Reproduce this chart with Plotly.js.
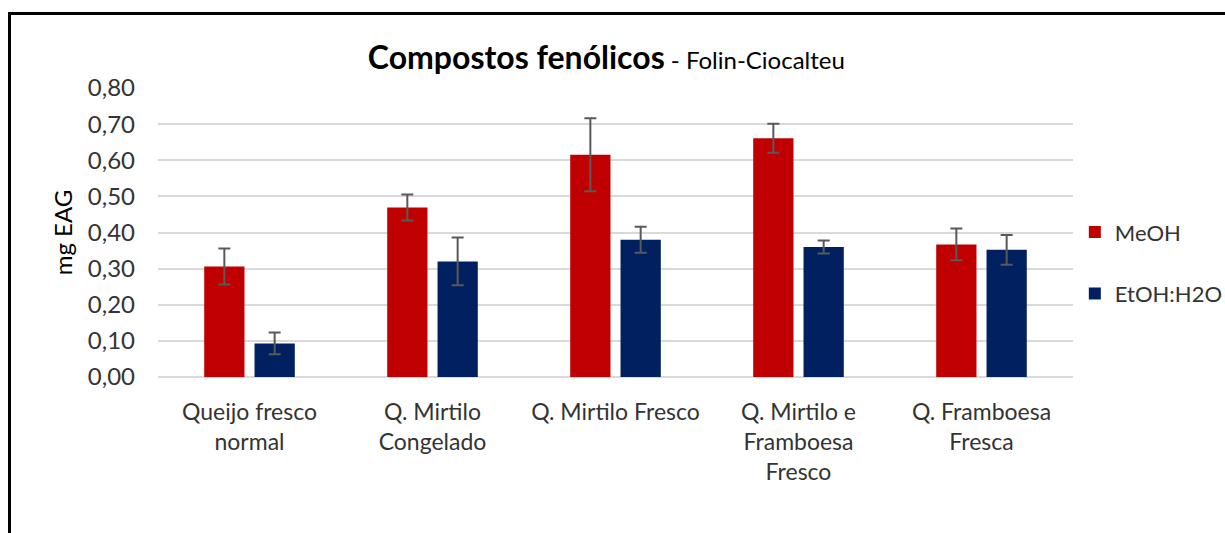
<!DOCTYPE html>
<html>
<head>
<meta charset="utf-8">
<script src="https://cdn.plot.ly/plotly-3.0.1.min.js"></script>
<style>
  body { margin: 0; overflow: hidden; background: #fff; }
  #plot { position: absolute; left: 0; top: 0; width: 1225px; height: 533px; }
  #frame { position: absolute; left: 8px; top: 12px; width: 1400px; height: 700px;
           border: 3px solid #000; pointer-events: none; }
</style>
</head>
<body>
<div id="plot"></div>
<div id="frame"></div>
<script>
// data
const categories = [
  "Queijo fresco<br>normal",
  "Q. Mirtilo<br>Congelado",
  "Q. Mirtilo Fresco",
  "Q. Mirtilo e<br>Framboesa<br>Fresco",
  "Q. Framboesa<br>Fresca"
];
const meoh = [0.306, 0.469, 0.615, 0.661, 0.367];
const meohErr = [0.050, 0.036, 0.101, 0.040, 0.044];
const etoh = [0.093, 0.320, 0.380, 0.360, 0.352];
const etohErr = [0.030, 0.066, 0.036, 0.018, 0.041];
const yTicks = [0, 0.1, 0.2, 0.3, 0.4, 0.5, 0.6, 0.7, 0.8];
const yTickText = ["0,00", "0,10", "0,20", "0,30", "0,40", "0,50", "0,60", "0,70", "0,80"];

const font = "Lato, 'Open Sans', sans-serif";

function errBars(vals) {
  return { type: "data", array: vals, visible: true, color: "#595959", thickness: 2, width: 6 };
}

var traces = [
  {
    x: categories, y: meoh, name: "MeOH", type: "bar",
    marker: { color: "#C00000" },
    error_y: errBars(meohErr),
    legendgroup: "a"
  },
  {
    x: categories, y: etoh, name: "EtOH:H2O", type: "bar",
    marker: { color: "#002060" },
    error_y: errBars(etohErr),
    legendgroup: "b"
  }
];

var layout = {
  width: 1225,
  height: 533,
  margin: { l: 158, r: 152, t: 88, b: 156, autoexpand: false },
  paper_bgcolor: "#fff",
  plot_bgcolor: "#fff",
  font: { family: font, size: 23, color: "#333" },
  title: {
    text: "<b>Compostos fenólicos</b><span style='font-size:24px'> - Folin-Ciocalteu</span>",
    font: { family: font, size: 32, color: "#000" },
    x: 0.49, xref: "paper", xanchor: "center",
    y: 0.891, yref: "container", yanchor: "middle"
  },
  barmode: "group",
  bargap: 0.45,
  bargroupgap: 0.2,
  xaxis: {
    tickfont: { size: 23, color: "#333" },
    showline: false,
    ticklabelstandoff: 19
  },
  yaxis: {
    range: [0, 0.8],
    tickvals: yTicks,
    ticktext: yTickText,
    tickfont: { size: 24, color: "#333" },
    showgrid: true,
    gridcolor: "#D9D9D9",
    gridwidth: 2,
    zeroline: true,
    zerolinecolor: "#D9D9D9",
    zerolinewidth: 2,
    ticklabelstandoff: 22,
    title: { text: "mg EAG", font: { size: 24, color: "#000" }, standoff: 8 }
  },
  legend: {
    x: 1.002, xanchor: "left",
    y: 0.394, yanchor: "middle",
    font: { size: 22, color: "#333" },
    tracegroupgap: 30
  }
};

Plotly.newPlot("plot", traces, layout, { displayModeBar: false, staticPlot: true });
</script>
</body>
</html>
